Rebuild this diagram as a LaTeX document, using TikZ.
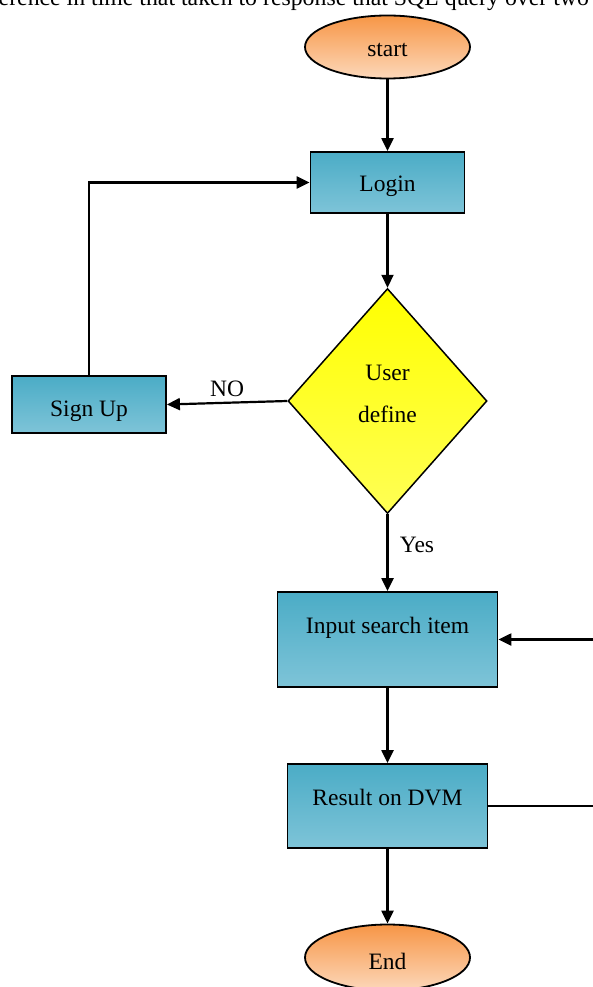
\documentclass[tikz,border=0pt]{standalone}
\usepackage{fontspec}
\setmainfont{Liberation Serif}
\usetikzlibrary{shapes.geometric, arrows.meta}
\definecolor{termtop}{HTML}{F79646}
\definecolor{termbot}{HTML}{FCD8BA}
\definecolor{proctop}{HTML}{4BACC6}
\definecolor{procbot}{HTML}{7EC4D8}
\definecolor{decbot}{HTML}{FFFF55}

\begin{document}
\begin{tikzpicture}[x=1pt, y=-1pt,
		font=\fontsize{23.5pt}{28pt}\selectfont,
		>={Triangle[length=13pt,width=12pt]},
		line/.style={line width=2.2pt},
		terminal/.style={ellipse, draw, line width=1.8pt, minimum width=165pt, inner sep=0pt, text height=20pt, text depth=1pt, top color=termtop, bottom color=termbot},
		process/.style={rectangle, draw, line width=1.8pt, inner sep=0pt, text height=20pt, text depth=1pt, top color=proctop, bottom color=procbot},
		decision/.style={diamond, draw, line width=1.5pt, inner sep=0pt, minimum width=199pt, minimum height=225pt, top color=yellow, bottom color=decbot}]
			\useasboundingbox (0,0) rectangle (593,987);
			\node[anchor=base west, inner sep=0pt, font=\fontsize{23.8pt}{28pt}\selectfont] (caption) at (-1.5,6) {erence in time that taken to response that SQL query over two};
			\node[terminal, minimum height=63pt] (start) at (387.5,47) {start};
			\node[process, minimum width=154pt, minimum height=61pt] (login) at (387.5,182.5) {Login};
			\node[decision] (user) at (387.5,401) {\raisebox{-1pt}[0pt][0pt]{\begin{tabular}{@{}c@{}}User\\[14pt]define\end{tabular}}};
			\node[process, minimum width=154pt, minimum height=57pt, text height=24pt, text depth=0pt] (signup) at (89,404.5) {Sign Up};
			\node[process, minimum width=220pt, minimum height=95pt] (input) at (387.5,639.5) {\raisebox{15.5pt}{Input search item}};
			\node[process, minimum width=200pt, minimum height=84pt] (result) at (387.5,806) {\raisebox{10.5pt}{Result on DVM}};
			\node[terminal, minimum height=66pt, text height=24pt, text depth=0pt] (finish) at (387.5,957.5) {End};
			\coordinate (edge) at (605,0); % right side, off the page
			\draw[line,->] (start) -- (login);
			\draw[line,->] (login) -- (user);
			\draw[line,->] (user.west) -- (signup.east) node[midway, above=2pt] {NO};
			\draw[line,->] (signup.north) |- (login.west);
			\draw[line,->] (user.south) -- (input.north) node[pos=0.4, right=8pt] {Yes};
			\draw[line,->] (input) -- (result);
			\draw[line,->] (result) -- (finish);
			\draw[line width=1.3pt] (result.east) -- (result.east -| edge);
			\draw[line,->] (input.east -| edge) -- (input.east);
		\end{tikzpicture}
\end{document}
